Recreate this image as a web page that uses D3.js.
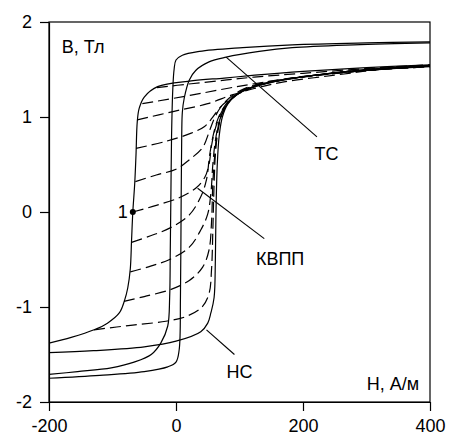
<!DOCTYPE html>
<html>
<head>
<meta charset="utf-8">
<script src="https://cdn.jsdelivr.net/npm/d3@7"></script>
<style>
  body { margin: 0; background: #fff; }
  text { font-family: Arial, "Liberation Sans", sans-serif; }
</style>
</head>
<body>
<svg id="chart"></svg>
<script>
// axis ticks
var xTicks = [-200, 0, 200, 400];
var yTicks = [-2, -1, 0, 1, 2];

// loop "TC" (solid), [H, B]
var tcDesc = [[400,1.79],[300,1.78],[183,1.76],[105,1.73],[37,1.69],[10,1.65],[0,1.6],[-3,1.5],[-5,1.3],[-7,0.8],[-8,0.2],[-9,-0.4],[-10,-0.9],[-13,-1.2],[-24,-1.38],[-39,-1.5],[-66,-1.58],[-102,-1.64],[-155,-1.68],[-200,-1.71]];
var tcAsc = [[-200,-1.75],[-120,-1.72],[-50,-1.68],[-13,-1.63],[0,-1.58],[5,-1.45],[7,-0.9],[8,0],[9,0.8],[10,1.05],[13,1.2],[21,1.39],[31,1.49],[52,1.58],[79,1.63],[131,1.69],[183,1.73],[280,1.76],[400,1.78]];

// loop "HC" (solid, outer loop of the dashed family)
var hcDesc = [[400,1.55],[300,1.52],[200,1.48],[124,1.44],[76,1.41],[24,1.38],[-29,1.32],[-50,1.21],[-58,1.09],[-61,0.95],[-63,0.6],[-65,0.3],[-68,0],[-70,-0.3],[-72,-0.6],[-76,-0.8],[-81,-0.93],[-89,-1.06],[-108,-1.17],[-129,-1.24],[-165,-1.32],[-200,-1.38]];
var hcAsc = [[-200,-1.48],[-130,-1.46],[-50,-1.42],[0,-1.36],[39,-1.26],[50,-1.17],[55,-1.06],[60,-0.9],[62,-0.5],[63,0],[65,0.5],[68,0.8],[73,1.0],[82,1.14],[95,1.23],[120,1.31],[160,1.38],[220,1.44],[300,1.49],[400,1.53]];

// reversal curves (dashed)
var forc1 = [[-129,-1.24],[-68,-1.19],[-16,-1.15],[16,-1.1],[41,-1.0],[52,-0.86],[56,-0.6],[58,-0.2],[60,0.3],[62,0.6],[66,0.85],[72,1.02],[82,1.15],[96,1.24],[120,1.31],[160,1.38],[220,1.44],[300,1.49],[400,1.53]];
var forc2 = [[-82,-0.94],[-50,-0.89],[-10,-0.82],[21,-0.72],[42,-0.58],[52,-0.4],[56,-0.1],[58,0.3],[61,0.6],[65,0.85],[72,1.03],[83,1.16],[99,1.26],[124,1.33],[165,1.39],[220,1.44],[300,1.49],[400,1.53]];
var forc3 = [[-72,-0.63],[-40,-0.57],[-10,-0.5],[21,-0.37],[39,-0.19],[50,-0.02],[55,0.2],[58,0.5],[62,0.75],[68,0.95],[77,1.1],[91,1.21],[114,1.3],[150,1.37],[220,1.44],[300,1.49],[400,1.54]];
var forc4 = [[-70,-0.32],[-40,-0.25],[-10,-0.17],[21,-0.03],[39,0.16],[48,0.34],[53,0.6],[59,0.82],[66,0.98],[76,1.11],[91,1.22],[114,1.3],[150,1.37],[220,1.44],[300,1.5],[400,1.54]];
var forc5 = [[-68,0],[-31,0.07],[5,0.15],[31,0.25],[45,0.36],[52,0.5],[56,0.7],[62,0.88],[70,1.03],[81,1.15],[96,1.24],[120,1.32],[160,1.38],[220,1.44],[300,1.5],[400,1.54]];
var forc6 = [[-64,0.32],[-31,0.39],[0,0.45],[21,0.55],[42,0.68],[52,0.84],[60,0.98],[70,1.1],[84,1.2],[102,1.28],[130,1.35],[170,1.4],[230,1.45],[300,1.5],[400,1.54]];
var forc7 = [[-63,0.67],[-18,0.74],[24,0.83],[45,0.9],[57,0.99],[68,1.09],[81,1.17],[100,1.25],[130,1.33],[170,1.39],[230,1.45],[300,1.5],[400,1.54]];
var forc8 = [[-61,0.97],[-3,1.06],[50,1.14],[87,1.23],[123,1.3],[170,1.37],[250,1.44],[320,1.5],[400,1.54]];
var forc9 = [[-53,1.14],[24,1.23],[80,1.3],[123,1.35],[200,1.42],[300,1.49],[400,1.54]];
var forc10 = [[-30,1.31],[24,1.35],[80,1.39],[123,1.42],[200,1.46],[300,1.51],[400,1.55]];
var forcCurves = [forc1, forc2, forc3, forc4, forc5, forc6, forc7, forc8, forc9, forc10];

// marked point "1"
var point1 = [-68, 0];

// annotations: label text, label position, leader line start/end
var notes = [
  { text: "ТС", at: [237, 0.55], from: [79, 1.63], to: [222, 0.79] },
  { text: "КВПП", at: [164, -0.56], from: [34, 0.25], to: [139, -0.28] },
  { text: "НС", at: [100, -1.75], from: [48, -1.24], to: [92, -1.5] }
];

var width = 449, height = 439;
var margin = { top: 22, right: 19, bottom: 37, left: 49 };

var svg = d3.select("#chart")
  .attr("width", width)
  .attr("height", height);

var x = d3.scaleLinear().domain([-200, 400]).range([margin.left, width - margin.right]);
var y = d3.scaleLinear().domain([-2, 2]).range([height - margin.bottom, margin.top]);

// clip curves to the plot box
svg.append("defs").append("clipPath")
  .attr("id", "clip")
  .append("rect")
  .attr("x", x(-200))
  .attr("y", y(2))
  .attr("width", x(400) - x(-200))
  .attr("height", y(-2) - y(2));

var line = d3.line()
  .x(function (d) { return x(d[0]); })
  .y(function (d) { return y(d[1]); })
  .curve(d3.curveCatmullRom.alpha(0.5));

var plot = svg.append("g").attr("clip-path", "url(#clip)");

plot.selectAll(".forc")
  .data(forcCurves)
  .join("path")
  .attr("class", "forc")
  .attr("d", line)
  .attr("fill", "none")
  .attr("stroke", "#000")
  .attr("stroke-width", 1.2)
  .attr("stroke-dasharray", "11,5");

plot.selectAll(".loop")
  .data([tcDesc, tcAsc, hcDesc, hcAsc])
  .join("path")
  .attr("class", "loop")
  .attr("d", line)
  .attr("fill", "none")
  .attr("stroke", "#000")
  .attr("stroke-width", 1.2);

// frame
svg.append("rect")
  .attr("x", x(-200))
  .attr("y", y(2))
  .attr("width", x(400) - x(-200))
  .attr("height", y(-2) - y(2))
  .attr("fill", "none")
  .attr("stroke", "#000")
  .attr("stroke-width", 1.2);

// axes (plain hyphen minus, no decimals)
var fmt = function (d) { return String(d); };
var xAxis = svg.append("g")
  .attr("transform", "translate(0," + y(-2) + ")")
  .call(d3.axisBottom(x).tickValues(xTicks).tickFormat(fmt).tickSize(9).tickSizeOuter(0).tickPadding(8));
var yAxis = svg.append("g")
  .attr("transform", "translate(" + x(-200) + ",0)")
  .call(d3.axisLeft(y).tickValues(yTicks).tickFormat(fmt).tickSize(9).tickSizeOuter(0).tickPadding(8));

[xAxis, yAxis].forEach(function (g) {
  g.selectAll("path, line").attr("stroke", "#000").attr("stroke-width", 1.2);
  g.selectAll("text")
    .attr("fill", "#000")
    .style("font-size", "18px")
    .style("font-family", "Arial, 'Liberation Sans', sans-serif");
});

// axis titles
svg.append("text")
  .attr("x", x(-180))
  .attr("y", y(1.67))
  .style("font-size", "18px")
  .text("B, Тл");

svg.append("text")
  .attr("x", x(383))
  .attr("y", y(-1.87))
  .attr("text-anchor", "end")
  .style("font-size", "18px")
  .text("H, А/м");

// point 1
svg.append("circle")
  .attr("cx", x(point1[0]))
  .attr("cy", y(point1[1]))
  .attr("r", 3)
  .attr("fill", "#000");

svg.append("text")
  .attr("x", x(point1[0]) - 5)
  .attr("y", y(point1[1]) + 6)
  .attr("text-anchor", "end")
  .style("font-size", "18px")
  .text("1");

// leader lines and labels
svg.selectAll(".lead")
  .data(notes)
  .join("line")
  .attr("class", "lead")
  .attr("x1", function (d) { return x(d.from[0]); })
  .attr("y1", function (d) { return y(d.from[1]); })
  .attr("x2", function (d) { return x(d.to[0]); })
  .attr("y2", function (d) { return y(d.to[1]); })
  .attr("stroke", "#000")
  .attr("stroke-width", 1.1);

svg.selectAll(".note")
  .data(notes)
  .join("text")
  .attr("class", "note")
  .attr("x", function (d) { return x(d.at[0]); })
  .attr("y", function (d) { return y(d.at[1]); })
  .attr("text-anchor", "middle")
  .style("font-size", "18px")
  .text(function (d) { return d.text; });
</script>
</body>
</html>
